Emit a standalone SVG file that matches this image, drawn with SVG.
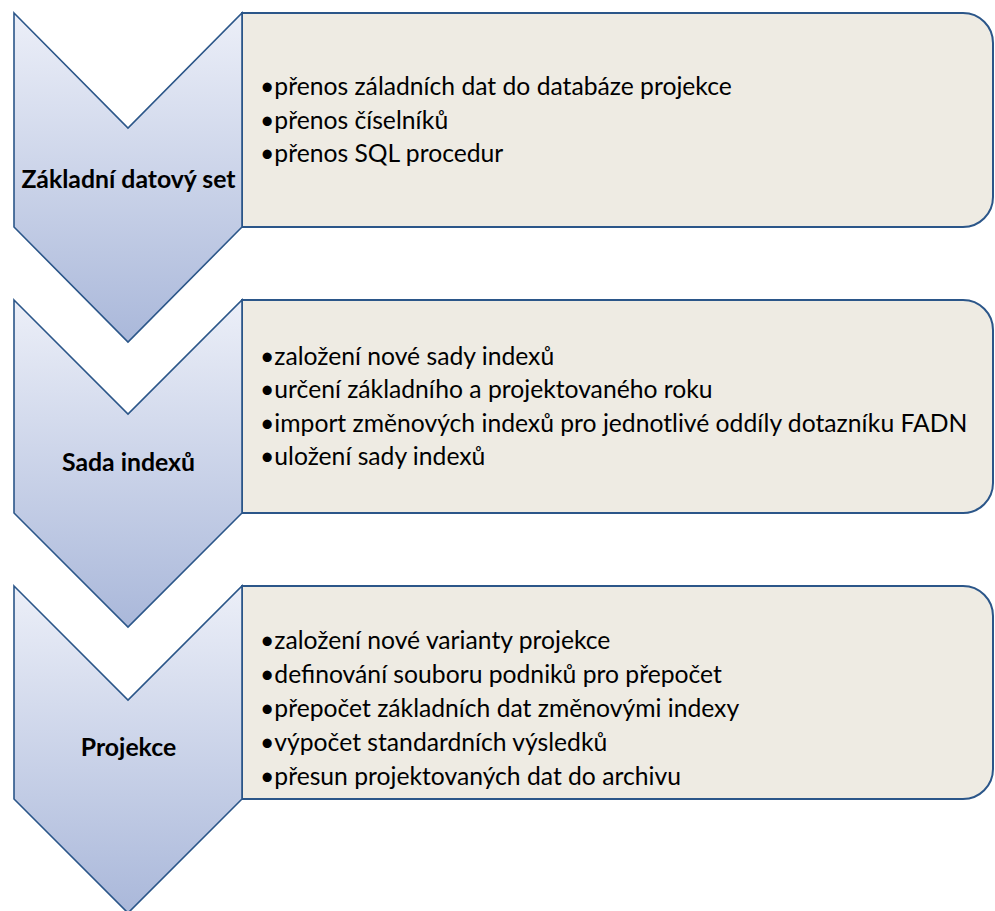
<svg xmlns="http://www.w3.org/2000/svg" width="995" height="911" viewBox="0 0 995 911">
<defs>
<linearGradient id="g" x1="0" y1="0" x2="0" y2="1">
<stop offset="0" stop-color="#eceff8"/>
<stop offset="1" stop-color="#aab8da"/>
</linearGradient>
<style>
.chev{fill:url(#g);stroke:#2b5689;stroke-width:1.6;stroke-linejoin:miter}
.box{fill:#eeebe3;stroke:#2b5689;stroke-width:2}
.lbl{font-family:Lato,"Open Sans","Liberation Sans",sans-serif;font-weight:bold;font-size:24.8px;fill:#000;text-anchor:middle}
.item{font-family:Lato,"Open Sans","Liberation Sans",sans-serif;font-size:24.7px;fill:#000}
</style>
</defs>
<rect width="995" height="911" fill="#fff"/>
<g id="box1">
<path class="box" d="M242,13 H963 A30,30 0 0 1 993,43 V197 A30,30 0 0 1 963,227 H242 Z"/>
<text class="item" x="260" y="95">•přenos záladních dat do databáze projekce</text>
<text class="item" x="260" y="128.5">•přenos číselníků</text>
<text class="item" x="260" y="162">•přenos SQL procedur</text>
</g>
<g id="box2">
<path class="box" d="M242,300 H963 A30,30 0 0 1 993,330 V483 A30,30 0 0 1 963,513 H242 Z"/>
<text class="item" x="260" y="364.5">•založení nové sady indexů</text>
<text class="item" x="260" y="398">•určení základního a projektovaného roku</text>
<text class="item" x="260" y="431.5">•import změnových indexů pro jednotlivé oddíly dotazníku FADN</text>
<text class="item" x="260" y="465">•uložení sady indexů</text>
</g>
<g id="box3">
<path class="box" d="M242,586 H963 A30,30 0 0 1 993,616 V769 A30,30 0 0 1 963,799 H242 Z"/>
<text class="item" x="260" y="649">•založení nové varianty projekce</text>
<text class="item" x="260" y="683">•definování souboru podniků pro přepočet</text>
<text class="item" x="260" y="717">•přepočet základních dat změnovými indexy</text>
<text class="item" x="260" y="751">•výpočet standardních výsledků</text>
<text class="item" x="260" y="785">•přesun projektovaných dat do archivu</text>
</g>
<g id="chevron1">
<path class="chev" d="M14,13 L128,128 L242,13 L242,227 L128,342 L14,227 Z"/>
<text class="lbl" x="128.5" y="188">Základní datový set</text>
</g>
<g id="chevron2">
<path class="chev" d="M14,300 L128,414 L242,300 L242,513 L128,627 L14,513 Z"/>
<text class="lbl" x="128.5" y="471">Sada indexů</text>
</g>
<g id="chevron3">
<path class="chev" d="M14,586 L128,700 L242,586 L242,799 L128,913 L14,799 Z"/>
<text class="lbl" x="128.5" y="756">Projekce</text>
</g>
<g id="connectors"/>
</svg>
